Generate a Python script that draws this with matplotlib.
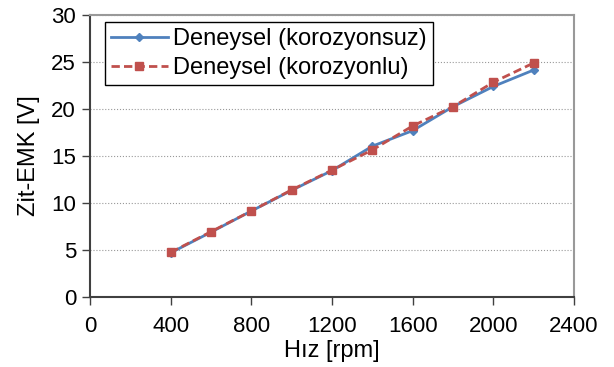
import matplotlib
matplotlib.use('Agg')
import matplotlib.pyplot as plt

plt.rcParams['font.family'] = ['Liberation Sans', 'DejaVu Sans']

hiz = [400, 600, 800, 1000, 1200, 1400, 1600, 1800, 2000, 2200]
korozyonsuz = [4.7, 6.9, 9.15, 11.35, 13.45, 16.05, 17.7, 20.25, 22.4, 24.15]
korozyonlu = [4.75, 6.95, 9.15, 11.4, 13.5, 15.65, 18.2, 20.25, 22.85, 24.9]

fig = plt.figure(figsize=(6.14, 3.67), dpi=100)
ax = fig.add_axes([0.1466, 0.1907, 0.7883, 0.7684])

ax.plot(hiz, korozyonsuz, color='#4F81BD', lw=2, marker='D', ms=4,
        label='Deneysel (korozyonsuz)')
ax.plot(hiz, korozyonlu, color='#C0504D', lw=2, ls=(0, (3, 1.5)), marker='s', ms=6,
        label='Deneysel (korozyonlu)')

ax.set_xlim(0, 2400)
ax.set_ylim(0, 30)
ax.set_xticks(range(0, 2401, 400))
ax.set_yticks(range(0, 31, 5))
ax.yaxis.grid(True, color='#999999', ls=':', lw=0.8)
ax.set_axisbelow(True)

for s in ['left', 'bottom']:
    ax.spines[s].set_color('#404040')
    ax.spines[s].set_linewidth(1.5)
for s in ['top', 'right']:
    ax.spines[s].set_color('#999999')
    ax.spines[s].set_linewidth(1.5)

ax.tick_params(labelsize=16, length=6, width=1, color='#404040')
ax.tick_params(axis='x', pad=7.5)
ax.tick_params(axis='y', pad=4)
ax.set_xlabel('Hız [rpm]', fontsize=17, labelpad=2)
ax.set_ylabel('Zit-EMK [V]', fontsize=17, labelpad=8)

leg = ax.legend(loc='upper left', bbox_to_anchor=(0.031, 0.975), fontsize=17,
                fancybox=False, framealpha=1, edgecolor='black',
                borderaxespad=0, handlelength=2.4, borderpad=0.25,
                labelspacing=0.3, handletextpad=0.25)
leg.get_frame().set_linewidth(1)

fig.savefig('out.png', dpi=100)
